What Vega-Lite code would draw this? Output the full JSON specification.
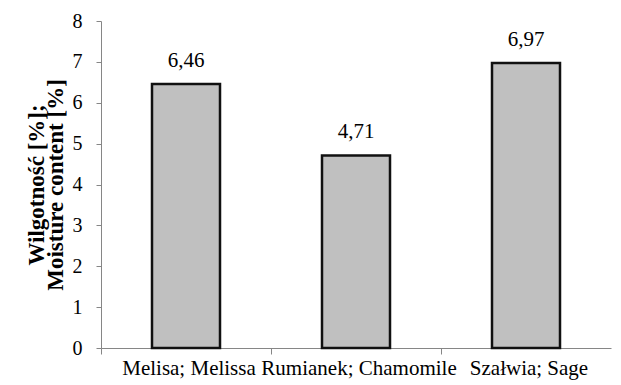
{
  "$schema": "https://vega.github.io/schema/vega-lite/v6.json",
  "autosize": "none",
  "width": 510,
  "height": 327,
  "padding": {"left": 101, "top": 21, "right": 10, "bottom": 37},
  "background": "white",
  "config": {
    "view": {"stroke": null},
    "font": "Liberation Serif",
    "locale": {"number": {"decimal": ",", "thousands": " ", "grouping": [3], "currency": ["", " zł"]}}
  },
  "data": {"values": [
    {"plant": "Melisa; Melissa", "moisture": 6.46},
    {"plant": "Rumianek; Chamomile", "moisture": 4.71},
    {"plant": "Szałwia; Sage", "moisture": 6.97}
  ]},
  "encoding": {
    "x": {
      "field": "plant", "type": "nominal", "sort": null,
      "scale": {"paddingInner": 0, "paddingOuter": 0},
      "axis": {
        "title": null, "labelAngle": 0, "labelOverlap": false, "labelLimit": 0,
        "labelFont": "Liberation Serif", "labelFontSize": 21, "labelColor": "#000",
        "labelPadding": 3, "labelOffset": 3, "bandPosition": 0, "tickSize": 6, "tickColor": "#868686",
        "domainColor": "#868686", "grid": false
      }
    },
    "y": {
      "field": "moisture", "type": "quantitative",
      "scale": {"domain": [0, 8], "nice": false},
      "axis": {
        "title": ["Wilgotność [%];", "Moisture content [%]"],
        "titleFont": "Liberation Serif", "titleFontSize": 23, "titleFontWeight": "bold",
        "titleColor": "#000", "titlePadding": 5, "titleLineHeight": 19,
        "values": [0, 1, 2, 3, 4, 5, 6, 7, 8], "format": "d",
        "labelFont": "Liberation Serif", "labelFontSize": 20, "labelColor": "#000",
        "labelPadding": 14, "tickSize": 5, "tickColor": "#868686",
        "domainColor": "#868686", "grid": false
      }
    }
  },
  "layer": [
    {
      "mark": {"type": "bar", "width": {"band": 0.4}, "fill": "#c0c0c0", "stroke": "#111", "strokeWidth": 2.5}
    },
    {
      "mark": {"type": "text", "baseline": "alphabetic", "dy": -17, "font": "Liberation Serif", "fontSize": 21, "color": "#000"},
      "encoding": {"text": {"field": "moisture", "type": "quantitative", "format": ".2f"}}
    }
  ]
}
